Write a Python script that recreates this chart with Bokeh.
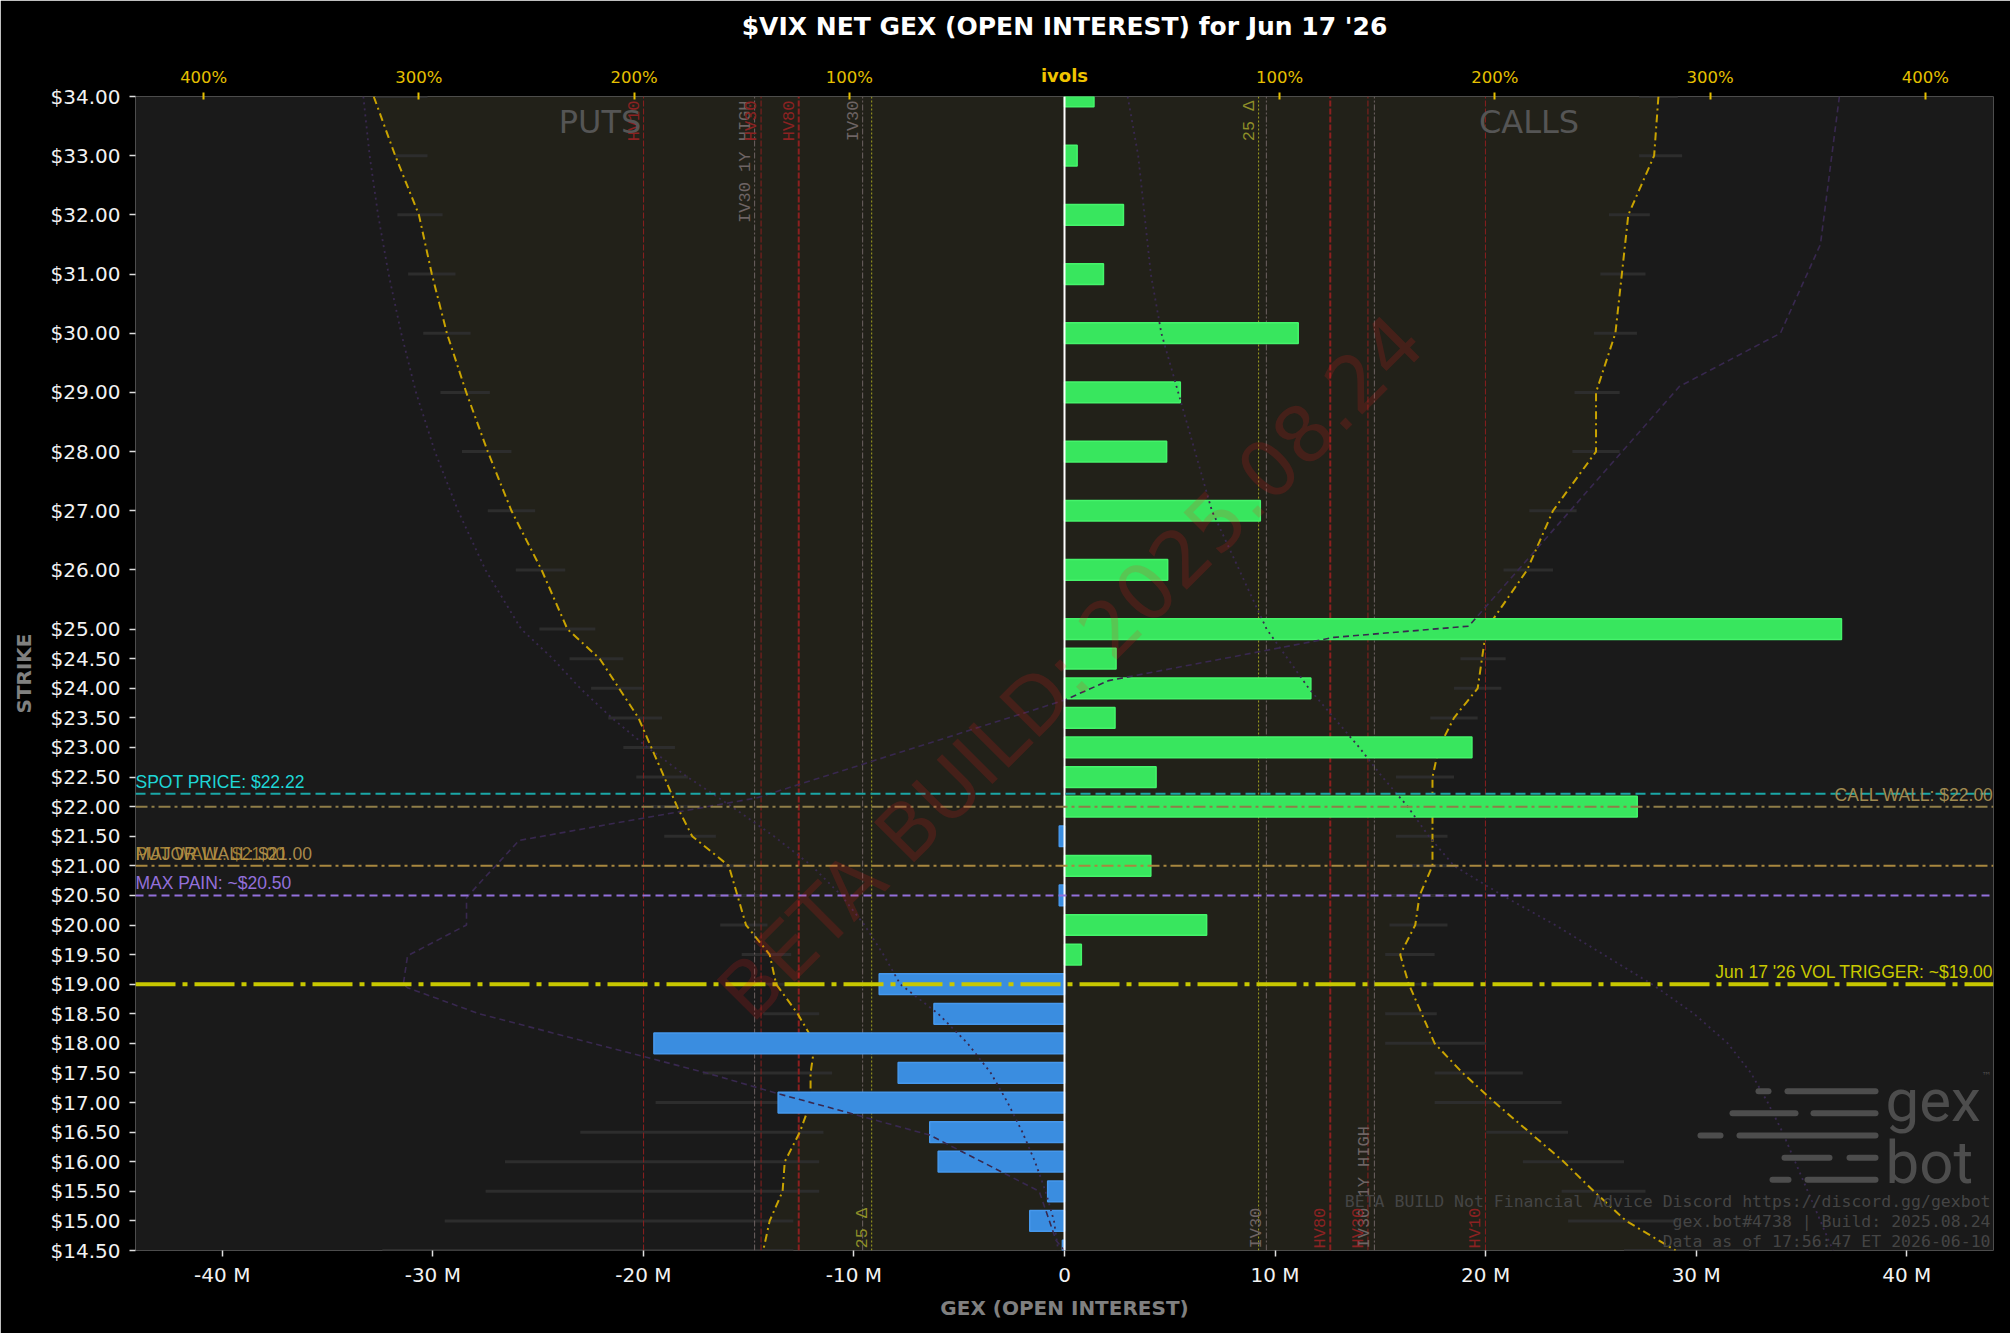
import math
from bokeh.plotting import figure
from bokeh.models import Range1d, LinearAxis, FixedTicker, Span, Label, PrintfTickFormatter
from bokeh.embed import file_html
from bokeh.resources import INLINE
from bokeh.core.properties import value

# ---------------- data ----------------
strikes = [34.0, 33.0, 32.0, 31.0, 30.0, 29.0, 28.0, 27.0, 26.0, 25.0, 24.5, 24.0, 23.5, 23.0,
           22.5, 22.0, 21.5, 21.0, 20.5, 20.0, 19.5, 19.0, 18.5, 18.0, 17.5, 17.0, 16.5, 16.0,
           15.5, 15.0, 14.5]
net_gex_m = [1.4, 0.6, 2.8, 1.85, 11.1, 5.5, 4.85, 9.3, 4.9, 36.9, 2.45, 11.7, 2.4, 19.35,
             4.35, 27.2, -0.25, 4.1, -0.25, 6.75, 0.8, -8.8, -6.2, -19.5, -7.9, -13.6, -6.4,
             -6.0, -0.8, -1.65, -0.1]
call_ivol = [276, 274, 262, 259, 256, 247, 247, 227, 215, 196, 194, 192, 181, 174, 171, 171,
             171, 171, 165, 163, 156, 160, 166, 172, 185, 200, 216, 232, 246, 261, 284]
put_ivol = [321, 311, 300, 294, 287, 278, 268, 257, 243, 231, 216, 207, 198, 192, 186, 180,
            173, 156, 152, 148, 137, 134, 124, 116, 118, 118, 123, 130, 131, 137, 140]
call_iv_lo = [267, 267, 253, 249, 246, 237, 236, 216, 204, 186, 184, 181, 170, 163, 154, 156,
              154, 156, 152, 151, 149, 150, 149, 149, 172, 172, 196, 213, 231, 234, 260]
call_iv_hi = [285, 287, 272, 270, 266, 258, 258, 238, 227, 208, 205, 203, 192, 186, 181, 182,
              178, 182, 178, 178, 172, 172, 173, 196, 213, 231, 234, 260, 270, 285, 318]
put_iv_lo = [296, 296, 289, 283, 276, 267, 257, 246, 232, 218, 205, 196, 187, 181, 175, 169,
             162, 146, 142, 138, 127, 123, 114, 106, 108, 108, 112, 114, 114, 126, 126]
put_iv_hi = [320, 311, 310, 305, 298, 290, 280, 268, 255, 244, 230, 220, 212, 205, 199, 192,
             186, 168, 164, 160, 150, 146, 140, 150, 168, 190, 225, 260, 269, 288, 317]

# faint profile curves (GEX, millions)
prof_dash_strikes = [34.0, 31.5, 30.0, 29.1, 25.05, 24.86, 24.13, 23.8, 22.15, 21.43, 20.7,
                     20.46, 20.0, 19.48, 19.0, 18.94, 18.5, 17.5, 17.14, 16.9, 16.45, 15.83,
                     15.5, 14.67, 14.5]
prof_dash_m = [36.8, 35.9, 34.0, 29.2, 19.2, 12.8, 2.1, 0.0, -14.6, -25.9, -27.8, -28.4, -28.4,
               -31.2, -31.4, -31.2, -27.8, -17.0, -13.5, -11.0, -6.4, -3.0, -1.2, -0.4, 0.0]
prof_dot_call_m = [3.0, 3.5, 3.8, 4.1, 4.6, 5.4, 6.2, 7.0, 8.3, 9.6, 10.6, 11.6, 12.8, 14.0,
                   15.1, 16.3, 17.3, 18.5, 20.8, 23.3, 25.6, 27.9, 29.9, 31.5, 32.6, 33.4,
                   34.1, 34.7, 35.3, 35.9, 36.5]
prof_dot_put_m = [-33.3, -33.0, -32.6, -32.1, -31.5, -30.8, -29.9, -28.8, -27.5, -25.8, -24.3,
                  -23.0, -21.5, -19.8, -17.9, -15.8, -13.8, -12.0, -10.6, -9.5, -8.6, -7.8,
                  -6.0, -4.6, -3.5, -2.7, -2.0, -1.4, -0.9, -0.5, -0.3]

spot_price = 22.22
call_wall = 22.00
put_wall = 21.00
major_wall = 21.00
max_pain = 20.50
vol_trigger = 19.00

# vertical vol references (percent)
hv10 = 195.6
iv30_1y_high = 144.0
hv30 = 141.0
hv80 = 123.5
iv30 = 93.8
put_25d = 89.6
call_25d = 90.2

gex_ticks = [-40, -30, -20, -10, 0, 10, 20, 30, 40]
ivol_ticks = [-400, -300, -200, -100, 100, 200, 300, 400]

title_text = "$VIX NET GEX (OPEN INTEREST) for Jun 17 '26"

# ---------------- layout ----------------
XMIN, XMAX = -44.12, 44.12
YMIN, YMAX = 14.5, 34.0
IVMAX = 431.7
FRAME_W, FRAME_H = 1858, 1154
PX_M = FRAME_W / (XMAX - XMIN)
PX_Y = FRAME_H / (YMAX - YMIN)

p = figure(width=2010, height=1333, output_backend="svg", toolbar_location=None,
           x_range=Range1d(XMIN, XMAX), y_range=Range1d(YMIN, YMAX),
           background_fill_color="#1a1a1a", border_fill_color="black",
           outline_line_color=None, min_border_left=135, min_border_right=17,
           min_border_top=96, min_border_bottom=83)
p.extra_x_ranges = {"ivol": Range1d(-IVMAX, IVMAX)}
p.xgrid.visible = False
p.ygrid.visible = False
p.title.visible = False

bx = p.below[0]
ly = p.left[0]
bx.ticker = FixedTicker(ticks=gex_ticks)
bx.major_label_overrides = {t: (f"{t} M" if t else "0") for t in gex_ticks}
bx.axis_label = "GEX (OPEN INTEREST)"
ly.ticker = FixedTicker(ticks=strikes)
ly.formatter = PrintfTickFormatter(format="$%.2f")
ly.axis_label = "STRIKE"
for ax in (bx, ly):
    ax.axis_line_color = None
    ax.major_tick_line_color = "#e0e0e0"
    ax.major_tick_line_width = 1.5
    ax.major_tick_out = 6
    ax.major_tick_in = 0
    ax.minor_tick_line_color = None
    ax.major_label_text_color = "#f2f2f2"
    ax.major_label_text_font = "DejaVu Sans"
    ax.major_label_text_font_size = "20px"
    ax.axis_label_text_color = "#808080"
    ax.axis_label_text_font = "DejaVu Sans"
    ax.axis_label_text_font_style = "bold"
    ax.axis_label_text_font_size = "20px"
ly.major_label_standoff = 9
ly.axis_label_standoff = 12
bx.major_label_standoff = 6
bx.axis_label_standoff = 6

gold = "#e6c000"
top = LinearAxis(x_range_name="ivol", ticker=FixedTicker(ticks=ivol_ticks))
top.major_label_overrides = {t: f"{abs(t)}%" for t in ivol_ticks}
top.axis_line_color = None
top.major_tick_line_color = gold
top.major_tick_line_width = 2
top.major_tick_out = 4
top.major_tick_in = 3
top.minor_tick_line_color = None
top.major_label_text_color = gold
top.major_label_text_font = "DejaVu Sans"
top.major_label_text_font_size = "16.5px"
top.major_label_standoff = 6
p.add_layout(top, "above")

# bold "ivols" at the centre tick (pulled down onto the first row); carries the chart title
top0 = LinearAxis(x_range_name="ivol", ticker=FixedTicker(ticks=[0]))
top0.major_label_overrides = {0: "ivols"}
top0.axis_line_color = None
top0.major_tick_line_color = None
top0.major_tick_out = 0
top0.major_tick_in = 0
top0.minor_tick_line_color = None
top0.major_label_text_color = "#f0c400"
top0.major_label_text_font = "DejaVu Sans"
top0.major_label_text_font_style = "bold"
top0.major_label_text_font_size = "18px"
top0.major_label_standoff = -21
top0.axis_label = title_text
top0.axis_label_text_color = "white"
top0.axis_label_text_font = "DejaVu Sans"
top0.axis_label_text_font_style = "bold"
top0.axis_label_text_font_size = "25px"
top0.axis_label_standoff = 21
p.add_layout(top0, "above")

# ---------------- iv envelope shading ----------------
neg_put_ivol = [-v for v in put_ivol]
p.harea(x1=neg_put_ivol, x2=call_ivol, y=strikes, x_range_name="ivol",
        fill_color="#ffd700", fill_alpha=0.035)

# iv ranges
p.segment(x0=call_iv_lo, x1=call_iv_hi, y0=strikes, y1=strikes, x_range_name="ivol",
          line_color="#2d2d2d", line_width=3)
p.segment(x0=[-v for v in put_iv_lo], x1=[-v for v in put_iv_hi], y0=strikes, y1=strikes,
          x_range_name="ivol", line_color="#2d2d2d", line_width=3)

# vertical vol reference lines
def vline(pct, color, dash, width):
    p.segment(x0=[-pct, pct], x1=[-pct, pct], y0=[YMIN, YMIN], y1=[YMAX, YMAX],
              x_range_name="ivol", line_color=color, line_dash=dash, line_width=width)

vline(hv10, "#8b1f1f", "6 2", 1)
vline(iv30_1y_high, "#6e6262", "6 2 2 2", 1)
vline(hv30, "#8b1f1f", "6 2", 1)
vline(hv80, "#8b1f1f", "6 2", 2)
vline(iv30, "#6e6262", "6 2 2 2", 1)
p.segment(x0=[-put_25d], x1=[-put_25d], y0=[YMIN], y1=[YMAX], x_range_name="ivol",
          line_color="#a0a020", line_dash="2 2", line_width=1)
p.segment(x0=[call_25d], x1=[call_25d], y0=[YMIN], y1=[YMAX], x_range_name="ivol",
          line_color="#a0a020", line_dash="2 2", line_width=1)

mono = value("Liberation Mono")
top_labels = [("HV10", hv10, "#8b2222"), ("IV30 1Y HIGH", iv30_1y_high, "#6e6464"),
              ("HV30", hv30, "#8b2222"), ("HV80", hv80, "#8b2222"), ("IV30", iv30, "#6e6464")]
for txt, pct, col in top_labels:
    p.text(x=[-pct], y=[YMAX], text=[txt], x_range_name="ivol", angle=math.pi / 2,
           text_align="right", text_baseline="bottom", y_offset=4, text_font=mono,
           text_font_size="17px", text_color=col)
    p.text(x=[pct], y=[YMIN], text=[txt], x_range_name="ivol", angle=math.pi / 2,
           text_align="left", text_baseline="bottom", y_offset=-2, text_font=mono,
           text_font_size="17px", text_color=col)
p.text(x=[-put_25d], y=[YMIN], text=["25 Δ"], x_range_name="ivol", angle=math.pi / 2,
       text_align="left", text_baseline="bottom", y_offset=-2, text_font=mono,
       text_font_size="17px", text_color="#8f8f28")
p.text(x=[call_25d], y=[YMAX], text=["25 Δ"], x_range_name="ivol", angle=math.pi / 2,
       text_align="right", text_baseline="bottom", y_offset=4, text_font=mono,
       text_font_size="17px", text_color="#8f8f28")

# PUTS / CALLS
for txt, xx in (("PUTS", XMIN / 2), ("CALLS", XMAX / 2)):
    p.add_layout(Label(x=xx, y=YMAX, text=txt, text_align="center", text_baseline="alphabetic",
                       y_offset=-25, text_font="DejaVu Sans", text_font_size="32px",
                       text_color="#555555"))

# ---------------- iv curves ----------------
p.line(call_ivol, strikes, x_range_name="ivol", line_color="#c9a300", line_width=2,
       line_dash="8 4 2 4")
p.line(neg_put_ivol, strikes, x_range_name="ivol", line_color="#c9a300", line_width=2,
       line_dash="8 4 2 4")

# ---------------- bars ----------------
bar_fill = ["#38e65e" if v >= 0 else "#3a8de0" for v in net_gex_m]
bar_line = ["#45f46b" if v >= 0 else "#4698ec" for v in net_gex_m]
p.hbar(y=strikes, left=0, right=net_gex_m, height=0.35, fill_color=bar_fill,
       line_color=bar_line, line_width=1.5)

# faint profiles
p.line(prof_dash_m, prof_dash_strikes, line_color="#38284f", line_width=1.6, line_dash="6 4")
p.line(prof_dot_call_m, strikes, line_color="#38284f", line_width=1.8, line_dash="2 4")
p.line(prof_dot_put_m, strikes, line_color="#38284f", line_width=1.8, line_dash="2 4")

# zero line
p.add_layout(Span(location=0, dimension="height", line_color="white", line_width=2))

# ---------------- horizontal levels ----------------
lab_font = "Liberation Sans"
p.add_layout(Span(location=spot_price, dimension="width", line_color="#1aa6a6",
                  line_width=2, line_dash="10 5"))
p.add_layout(Label(x=XMIN, y=spot_price, text=f"SPOT PRICE: ${spot_price:.2f}",
                   text_align="left", y_offset=2, text_font=lab_font,
                   text_font_size="17.5px", text_color="#1fd6d6"))
p.add_layout(Span(location=major_wall, dimension="width", line_color="#a8873f",
                  line_width=2, line_dash="12 4 3 4"))
p.add_layout(Label(x=XMIN, y=major_wall, text=f"MAJOR WALL: ${major_wall:.2f}",
                   text_align="left", y_offset=2, text_font=lab_font,
                   text_font_size="17.5px", text_color="#a8894a"))
p.add_layout(Label(x=XMIN, y=put_wall, text=f"PUT WALL: ${put_wall:.2f}",
                   text_align="left", y_offset=2, text_font=lab_font,
                   text_font_size="17.5px", text_color="#b8913a", text_alpha=0.85))
p.add_layout(Span(location=max_pain, dimension="width", line_color="#9370db",
                  line_width=2, line_dash="8 5"))
p.add_layout(Label(x=XMIN, y=max_pain, text=f"MAX PAIN: ~${max_pain:.2f}",
                   text_align="left", y_offset=2, text_font=lab_font,
                   text_font_size="17.5px", text_color="#9370db"))
p.add_layout(Span(location=call_wall, dimension="width", line_color="#8f7d48",
                  line_width=2, line_dash="12 4 3 4"))
p.add_layout(Label(x=XMAX, y=call_wall, text=f"CALL WALL: ${call_wall:.2f}",
                   text_align="right", y_offset=2, text_font=lab_font,
                   text_font_size="17.5px", text_color="#a08a50"))
p.add_layout(Span(location=vol_trigger, dimension="width", line_color="#c8c800",
                  line_width=4, line_dash="40 7 5 7"))
p.add_layout(Label(x=XMAX, y=vol_trigger, text=f"Jun 17 '26 VOL TRIGGER: ~${vol_trigger:.2f}",
                   text_align="right", y_offset=2, text_font=lab_font,
                   text_font_size="17.5px", text_color="#c8c800"))

# ---------------- watermark ----------------
p.add_layout(Label(x=0.3, y=24.35, text="BETA BUILD: 2025.08.24", angle=math.pi / 4,
                   text_align="center", text_baseline="middle", text_font="DejaVu Sans",
                   text_font_size="78px", text_color="#ff2020", text_alpha=0.16))

# ---------------- footer ----------------
footer = ["BETA BUILD Not Financial Advice Discord https://discord.gg/gexbot",
          "gex.bot#4738 | Build: 2025.08.24",
          "Data as of 17:56:47 ET 2026-06-10"]
for i, txt in enumerate(footer):
    p.add_layout(Label(x=XMAX, y=YMIN, text=txt, text_align="right", x_offset=-3,
                       text_baseline="alphabetic", y_offset=49.5 - 20.3 * i,
                       text_font="DejaVu Sans Mono", text_font_size="16.5px",
                       text_color="#454545"))

# ---------------- logo ----------------
p.add_layout(Label(x=XMAX, y=YMIN, text="gex", text_align="left", x_offset=-108,
                   text_baseline="alphabetic", y_offset=150, text_font="Roboto",
                   text_font_size="60px", text_color="#4d4d4d"))
p.add_layout(Label(x=XMAX, y=YMIN, text="bot", text_align="left", x_offset=-108,
                   text_baseline="alphabetic", y_offset=88, text_font="Roboto",
                   text_font_size="60px", text_color="#4d4d4d"))
p.add_layout(Label(x=XMAX, y=YMIN, text="™", text_align="left", x_offset=-12,
                   y_offset=170, text_font="DejaVu Sans", text_font_size="10px",
                   text_color="#4d4d4d"))
logo_rows = [(159.3, [(238, 222), (209, 115)]), (137.3, [(264, 195), (183, 115)]),
             (115.0, [(296, 270), (257, 115)]), (92.7, [(212, 161), (147, 115)]),
             (70.7, [(224, 202), (189, 115)])]
lx0, lx1, ly0 = [], [], []
for up, segs in logo_rows:
    for a, b in segs:
        lx0.append(XMAX - (a - 3) / PX_M)
        lx1.append(XMAX - (b + 3) / PX_M)
        ly0.append(YMIN + up / PX_Y)
p.segment(x0=lx0, x1=lx1, y0=ly0, y1=ly0, line_color="#4d4d4d", line_width=6,
          line_cap="round")

open("out.html", "w").write(file_html(p, INLINE))
